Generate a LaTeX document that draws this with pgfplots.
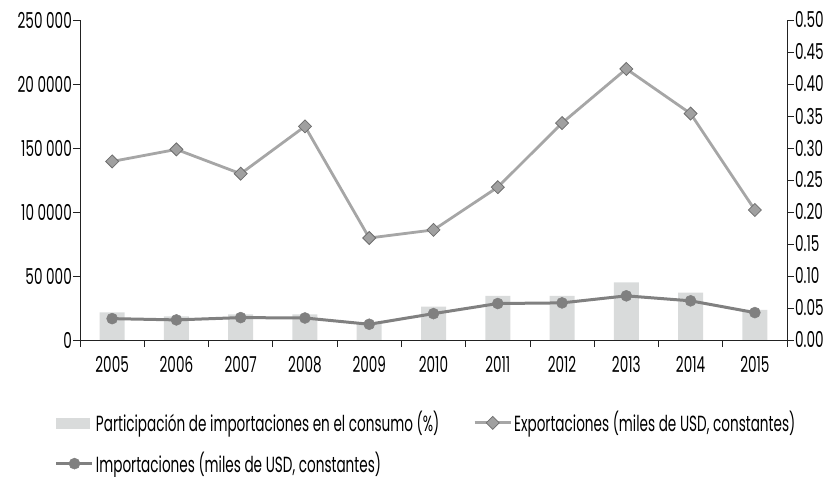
\documentclass[border=0pt]{standalone}
\usepackage{pgfplots}
\pgfplotsset{compat=1.18}
\usepackage{fontspec}
\setmainfont{Poppins}[FakeStretch=0.62]
\definecolor{barc}{HTML}{D9DBDB}
\definecolor{expc}{HTML}{A6A6A6}
\definecolor{expm}{HTML}{A0A0A0}
\definecolor{expe}{HTML}{6E6E6E}
\definecolor{impc}{HTML}{808080}
\definecolor{axc}{HTML}{222222}
\pgfplotsset{
  linelegend/.style={legend image code/.code={\draw[mark repeat=2,mark phase=2,##1] plot coordinates {(0bp,0bp)(18bp,0bp)(36bp,0bp)};}},
  barlegend/.style={legend image code/.code={\fill[barc] (0bp,-5bp) rectangle (33bp,5bp);}}
}
\begin{document}
\fontsize{22}{26}\selectfont
\begin{tikzpicture}
\path[use as bounding box] (-80bp,-137bp) rectangle (757bp,340bp);
\pgfplotsset{base/.style={scale only axis, width=707bp, height=320bp,
  xmin=-0.5, xmax=10.5, clip=false, tick align=outside,
  axis line style={axc, line width=0.8bp}, tick style={axc, line width=0.8bp},
  major tick length=7bp, minor tick length=7bp,
  font=\fontsize{22}{26}\selectfont, scaled y ticks=false,
  /pgf/number format/assume math mode=true}}
\begin{axis}[base, axis x line=none, axis y line*=right, ymin=0, ymax=0.5,
  ytick={0,0.05,0.1,0.15,0.2,0.25,0.3,0.35,0.4,0.45,0.5},
  yticklabels={0.00,0.05,0.10,0.15,0.20,0.25,0.30,0.35,0.40,0.45,0.50},
  yticklabel style={inner xsep=1bp}]
\addplot[ybar, bar width=25bp, fill=barc, draw=none] coordinates {
(0,0.043) (1,0.037) (2,0.040) (3,0.040) (4,0.028) (5,0.052) (6,0.069) (7,0.069) (8,0.090) (9,0.074) (10,0.047)};
\end{axis}
\begin{axis}[base, axis x line*=bottom, axis y line*=left, ymin=0, ymax=250000,
  ytick={0,50000,100000,150000,200000,250000},
  yticklabels={0,50 000,10 0000,150 000,20 0000,250 000},
  yticklabel style={inner xsep=1bp},
  xtick={0,...,10},
  xticklabels={2005,2006,2007,2008,2009,2010,2011,2012,2013,2014,2015},
  major x tick style={draw=none},
  minor xtick={-0.5,0.5,...,10.5},
  xticklabel style={yshift=-2bp},
  legend style={draw=none, fill=none, inner sep=0pt, outer sep=0pt,
    at={(axis description cs:0,0)}, anchor=north west, xshift=-25bp, yshift=-69bp,
    nodes={inner ysep=2bp},
    /tikz/every even column/.append style={column sep=32bp}, row sep=13bp,
    font=\fontsize{22}{26}\selectfont},
  legend columns=2, legend cell align=left]
\addlegendimage{barlegend}
\addlegendentry{Participación de importaciones en el consumo (\%)}
\addplot[expc, line width=2.8bp, mark=square*, mark size=4.6bp,
  mark options={rotate=45, fill=expm, draw=expe, line width=0.8bp}, linelegend]
coordinates {(0,139500) (1,148900) (2,129900) (3,166900) (4,79700) (5,86000) (6,119400) (7,169500) (8,211800) (9,176900) (10,101600)};
\addlegendentry{Exportaciones (miles de USD, constantes)}
\addplot[impc, line width=3bp, mark=*, mark size=5.5bp,
  mark options={fill=impc, draw=impc, line width=0.5bp}, linelegend]
coordinates {(0,16700) (1,15700) (2,17500) (3,17200) (4,12300) (5,20600) (6,28500) (7,29000) (8,34500) (9,30600) (10,21400)};
\addlegendentry{Importaciones (miles de USD, constantes)}
\end{axis}
\end{tikzpicture}
\end{document}
